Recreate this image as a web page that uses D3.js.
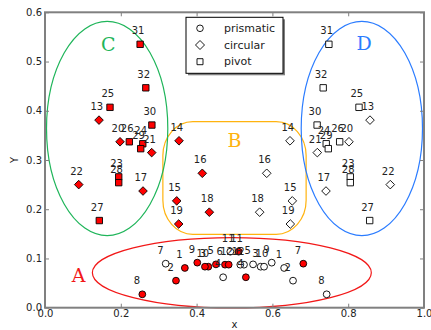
<!DOCTYPE html>
<html><head><meta charset="utf-8">
<script src="https://cdn.jsdelivr.net/npm/d3@7"></script>
<style>body{margin:0;background:#fff}svg{display:block}text{font-family:"DejaVu Sans",sans-serif}</style>
</head><body><svg id="c" width="431" height="330"></svg>
<script>
// ---- data ----
const circleLabels = [1,2,3,4,5,6,7,8,9,10,11,12];
const circleFilledX = [0.369,0.3456,0.431,0.530,0.451,0.475,0.6815,0.2568,0.4018,0.422,0.511,0.4847];
const circleHollowX = [0.631,0.6544,0.569,0.470,0.549,0.525,0.3185,0.7432,0.5982,0.578,0.489,0.5153];
const circleY       = [0.0807,0.0549,0.0833,0.0618,0.088,0.0874,0.0894,0.0272,0.0915,0.0833,0.1138,0.0874];

const diamondLabels = [13,14,15,16,17,18,19,20,21,22];
const diamondFilledX = [0.1425,0.3536,0.3475,0.415,0.2586,0.4336,0.3527,0.198,0.2815,0.089];
const diamondHollowX = [0.8575,0.6464,0.6525,0.585,0.7414,0.5664,0.6473,0.802,0.7185,0.911];
const diamondY       = [0.381,0.339,0.217,0.273,0.237,0.194,0.170,0.337,0.315,0.25];

const squareLabels = [23,24,25,26,27,28,29,30,31,32];
const squareFilledX = [0.1945,0.258,0.1715,0.2225,0.1433,0.1945,0.2525,0.282,0.251,0.266];
const squareHollowX = [0.8055,0.742,0.8285,0.7775,0.8567,0.8055,0.7475,0.718,0.749,0.734];
const squareY       = [0.2657,0.333,0.407,0.337,0.177,0.254,0.323,0.371,0.535,0.4466];

const xTicks = [0.0,0.2,0.4,0.6,0.8,1.0];
const yTicks = [0.0,0.1,0.2,0.3,0.4,0.5,0.6];
const legendNames = ["prismatic","circular","pivot"];

// group annotations: name, centre x, centre y, half-width, half-height (data units)
const groupNames = ["A","B","C","D"];
const groupCx = [0.493,0.5,0.164,0.836];
const groupCy = [0.071,0.2635,0.364,0.364];
const groupRx = [0.368,0.189,0.16,0.16];
const groupRy = [0.0715,0.1145,0.2175,0.2175];
const groupColors = ["#f21818","#ffb30f","#1fb55a","#2b7cff"];

// ---- chart ----
const svg = d3.select("#c");
const L=45, R=424, T=12.3, B=307.7;
const x = d3.scaleLinear().domain([0,1]).range([L,R]);
const y = d3.scaleLinear().domain([0,0.6]).range([B,T]);

// group outlines
groupNames.forEach((g,i)=>{
  const cx=x(groupCx[i]), cy=y(groupCy[i]);
  const rx=x(groupRx[i])-x(0), ry=y(0)-y(groupRy[i]);
  if(g==="B"){
    svg.append("rect").attr("x",cx-rx).attr("y",cy-ry).attr("width",2*rx).attr("height",2*ry)
      .attr("rx",30).attr("ry",34).attr("fill","none").attr("stroke",groupColors[i]).attr("stroke-width",1.2);
  } else {
    svg.append("ellipse").attr("cx",cx).attr("cy",cy).attr("rx",rx).attr("ry",ry)
      .attr("fill","none").attr("stroke",groupColors[i]).attr("stroke-width",1.2);
  }
});
// group letters
const letterPos = {A:[0.089,0.066],B:[0.5,0.34],C:[0.167,0.536],D:[0.842,0.537]};
groupNames.forEach((g,i)=>{
  svg.append("text").attr("x",x(letterPos[g][0])).attr("y",y(letterPos[g][1]))
    .attr("text-anchor","middle").attr("dominant-baseline","central")
    .style("font-family","'DejaVu Serif','Liberation Serif',serif").style("font-size","19px")
    .attr("fill",groupColors[i]).text(g);
});

// symbols
const diamondSym = {draw(ctx,size){const r=Math.sqrt(size/2);ctx.moveTo(0,-r);ctx.lineTo(r,0);ctx.lineTo(0,r);ctx.lineTo(-r,0);ctx.closePath();}};
const symPath = {
  circle: d3.symbol().type(d3.symbolCircle).size(Math.PI*3.4*3.4)(),
  diamond: d3.symbol().type(diamondSym).size(2*4.3*4.3)(),
  square: d3.symbol().type(d3.symbolSquare).size(6.4*6.4)()
};
function drawSeries(labels, xs, ys, shape, fill){
  const g = svg.append("g");
  g.selectAll("path").data(labels).join("path")
    .attr("d",symPath[shape])
    .attr("transform",(d,i)=>`translate(${x(xs[i])},${y(ys[i])})`)
    .attr("fill",fill).attr("stroke","#000").attr("stroke-width",0.9);
}
function drawLabels(labels, xs, ys){
  svg.append("g").selectAll("text").data(labels).join("text")
    .attr("x",(d,i)=>x(xs[i])-8.5).attr("y",(d,i)=>y(ys[i])-10)
    .style("font-size","10px").attr("fill","#222").text(d=>d);
}
drawSeries(circleLabels,circleHollowX,circleY,"circle","#fff");
drawSeries(diamondLabels,diamondHollowX,diamondY,"diamond","#fff");
drawSeries(squareLabels,squareHollowX,squareY,"square","#fff");
drawSeries(circleLabels,circleFilledX,circleY,"circle","#f00");
drawSeries(diamondLabels,diamondFilledX,diamondY,"diamond","#f00");
drawSeries(squareLabels,squareFilledX,squareY,"square","#f00");
drawLabels(circleLabels,circleFilledX,circleY);
drawLabels(diamondLabels,diamondFilledX,diamondY);
drawLabels(squareLabels,squareFilledX,squareY);
drawLabels(circleLabels,circleHollowX,circleY);
drawLabels(diamondLabels,diamondHollowX,diamondY);
drawLabels(squareLabels,squareHollowX,squareY);

// axes
const fmt = d3.format(".1f");
function styleAxis(g, labels){
  g.select(".domain").remove();
  g.selectAll(".tick line").attr("stroke","#808080").attr("stroke-width",1);
  g.selectAll(".tick text").style("font-size","10px").attr("fill","#222");
  if(!labels) g.selectAll(".tick text").remove();
}
svg.append("g").attr("transform",`translate(0,${B})`).call(d3.axisBottom(x).tickValues(xTicks).tickFormat(fmt).tickSize(-4).tickPadding(2)).call(g=>styleAxis(g,true));
svg.append("g").attr("transform",`translate(0,${T})`).call(d3.axisTop(x).tickValues(xTicks).tickSize(-4)).call(g=>styleAxis(g,false));
svg.append("g").attr("transform",`translate(${L},0)`).call(d3.axisLeft(y).tickValues(yTicks).tickFormat(fmt).tickSize(-4).tickPadding(3)).call(g=>styleAxis(g,true));
svg.append("g").attr("transform",`translate(${R},0)`).call(d3.axisRight(y).tickValues(yTicks).tickSize(-4)).call(g=>styleAxis(g,false));
svg.append("rect").attr("x",L).attr("y",T).attr("width",R-L).attr("height",B-T)
  .attr("fill","none").attr("stroke","#808080").attr("stroke-width",2);

svg.append("text").attr("x",(L+R)/2).attr("y",328).attr("text-anchor","middle").style("font-size","10px").attr("fill","#222").text("x");
svg.append("text").attr("transform",`translate(18,${(T+B)/2}) rotate(-90)`).attr("text-anchor","middle").style("font-size","10px").attr("fill","#222").text("Y");

// legend
const lg = svg.append("g");
const lx=186, ly=17.3, lw=97, lh=56;
lg.append("rect").attr("x",lx+2).attr("y",ly+2).attr("width",lw).attr("height",lh).attr("fill","#808080");
lg.append("rect").attr("x",lx).attr("y",ly).attr("width",lw).attr("height",lh).attr("fill","#fff").attr("stroke","#000").attr("stroke-width",1);
const legShapes=["circle","diamond","square"];
legendNames.forEach((n,i)=>{
  const yy = ly+11+i*16.7;
  const s = {circle:d3.symbol().type(d3.symbolCircle).size(Math.PI*3.3*3.3)(),diamond:d3.symbol().type(diamondSym).size(2*4.5*4.5)(),square:d3.symbol().type(d3.symbolSquare).size(6*6)()}[legShapes[i]];
  lg.append("path").attr("d",s).attr("transform",`translate(${lx+14},${yy})`).attr("fill","#fff").attr("stroke","#000").attr("stroke-width",0.9);
  lg.append("text").attr("x",lx+38).attr("y",yy).attr("dominant-baseline","central").style("font-size","11px").attr("fill","#222").text(n);
});
</script></body></html>
